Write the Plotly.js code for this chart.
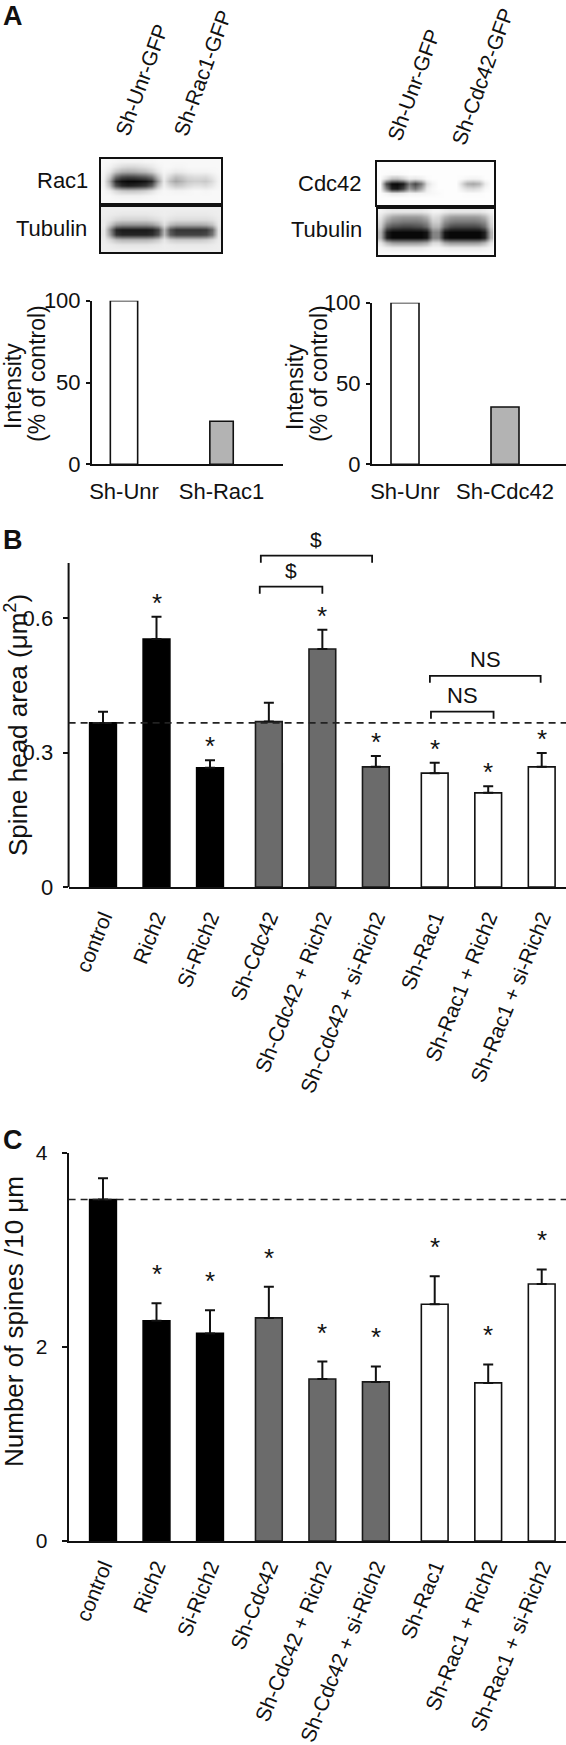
<!DOCTYPE html>
<html><head><meta charset="utf-8">
<script src="https://cdn.plot.ly/plotly-3.0.1.min.js"></script>
<style>html,body{margin:0;padding:0;background:#fff;}#chart{width:566px;height:1745px;}</style>
</head><body><div id="chart"></div>
<script>
// ---------------- DATA ----------------
const rac1Categories = ['Sh-Unr', 'Sh-Rac1'];
const rac1Intensity = [100, 26.3];
const cdc42Categories = ['Sh-Unr', 'Sh-Cdc42'];
const cdc42Intensity = [100, 35.5];

const rac1BlotLanes = ['Sh-Unr-GFP', 'Sh-Rac1-GFP'];
const cdc42BlotLanes = ['Sh-Unr-GFP', 'Sh-Cdc42-GFP'];

const conditions = ['control', 'Rich2', 'Si-Rich2', 'Sh-Cdc42', 'Sh-Cdc42 + Rich2',
  'Sh-Cdc42 + si-Rich2', 'Sh-Rac1', 'Sh-Rac1 + Rich2', 'Sh-Rac1 + si-Rich2'];
const conditionGroup = [0, 0, 0, 1, 1, 1, 2, 2, 2];

const spineHeadArea = [0.366, 0.553, 0.266, 0.369, 0.531, 0.268, 0.254, 0.210, 0.268];
const spineHeadAreaSEM = [0.025, 0.050, 0.017, 0.042, 0.043, 0.024, 0.023, 0.015, 0.031];
const spineHeadAreaSig = [false, true, true, false, true, true, true, true, true];
const spineHeadComparisons = [
  {a: 3, b: 5, label: '$'}, {a: 3, b: 4, label: '$'},
  {a: 6, b: 8, label: 'NS'}, {a: 6, b: 7, label: 'NS'}];

const spineDensity = [3.52, 2.27, 2.14, 2.30, 1.67, 1.64, 2.44, 1.63, 2.65];
const spineDensitySEM = [0.22, 0.18, 0.24, 0.32, 0.18, 0.16, 0.29, 0.19, 0.15];
const spineDensitySig = [false, true, true, true, true, true, true, true, true];

// western blot band densities (0 = blank film, 1 = saturated), rows top -> bottom
const blotRac1 = [
  [.03,.03,.04,.05,.05,.05,.05,.04,.04,.03,.03,.03,.03,.03,.03,.03,.03,.03,.03,.03],
  [.03,.05,.10,.14,.16,.16,.14,.12,.09,.05,.03,.03,.04,.04,.03,.03,.03,.03,.03,.03],
  [.04,.10,.24,.32,.34,.33,.30,.27,.20,.10,.04,.06,.09,.08,.06,.05,.05,.05,.04,.03],
  [.05,.22,.58,.72,.75,.74,.70,.66,.55,.26,.06,.16,.26,.22,.16,.14,.14,.15,.10,.04],
  [.06,.36,.86,.97,1.0,1.0,.98,.95,.85,.42,.08,.26,.36,.30,.22,.20,.20,.22,.15,.05],
  [.05,.26,.70,.86,.90,.88,.85,.80,.65,.26,.06,.15,.22,.20,.15,.12,.12,.14,.10,.04],
  [.03,.07,.16,.22,.24,.24,.22,.19,.13,.06,.03,.04,.05,.05,.04,.03,.03,.04,.03,.03],
  [.03,.03,.05,.06,.06,.06,.06,.05,.04,.03,.03,.03,.03,.03,.03,.03,.03,.03,.03,.03],
  [.03,.03,.03,.03,.03,.03,.03,.03,.03,.03,.03,.03,.03,.03,.03,.03,.03,.03,.03,.03]];
const blotTubulin1 = [
  [.07,.07,.07,.07,.07,.07,.07,.07,.07,.07,.07,.07,.07,.07,.07,.07,.07,.07,.07,.07],
  [.07,.08,.09,.10,.10,.10,.10,.10,.09,.08,.07,.08,.09,.09,.09,.09,.09,.09,.08,.07],
  [.08,.11,.16,.18,.18,.18,.18,.18,.16,.13,.09,.12,.14,.14,.14,.14,.14,.14,.12,.08],
  [.08,.22,.40,.44,.44,.44,.44,.44,.40,.30,.13,.28,.34,.34,.34,.34,.34,.32,.25,.09],
  [.10,.48,.88,.93,.93,.93,.93,.93,.90,.76,.30,.70,.82,.82,.82,.82,.82,.80,.62,.12],
  [.10,.42,.82,.88,.88,.88,.88,.88,.85,.70,.28,.65,.76,.76,.76,.76,.76,.73,.56,.11],
  [.08,.16,.26,.30,.30,.30,.30,.30,.27,.21,.10,.19,.22,.22,.22,.22,.22,.20,.15,.08],
  [.07,.08,.10,.11,.11,.11,.11,.11,.10,.09,.07,.08,.09,.09,.09,.09,.09,.09,.08,.07],
  [.07,.07,.07,.07,.07,.07,.07,.07,.07,.07,.07,.07,.07,.07,.07,.07,.07,.07,.07,.07]];
const blotCdc42 = [
  [.01,.01,.01,.01,.01,.01,.01,.01,.01,.01,.01,.01,.01,.01,.01,.01,.01,.01,.01,.01],
  [.01,.01,.01,.01,.01,.01,.01,.01,.01,.01,.01,.01,.01,.01,.01,.01,.01,.01,.01,.01],
  [.01,.02,.03,.03,.02,.01,.01,.01,.01,.01,.01,.01,.01,.01,.01,.01,.01,.01,.01,.01],
  [.01,.12,.25,.26,.18,.08,.10,.07,.02,.01,.01,.01,.01,.01,.02,.04,.05,.04,.01,.01],
  [.02,.72,.98,1.0,.92,.55,.75,.55,.15,.05,.01,.01,.01,.01,.15,.32,.36,.30,.08,.01],
  [.02,.50,.90,.93,.76,.40,.55,.35,.08,.03,.01,.01,.01,.01,.07,.13,.15,.11,.03,.01],
  [.01,.05,.10,.10,.08,.05,.06,.05,.04,.03,.02,.01,.01,.01,.01,.02,.02,.02,.01,.01],
  [.01,.01,.01,.01,.01,.01,.01,.01,.01,.01,.01,.01,.01,.01,.01,.01,.01,.01,.01,.01],
  [.01,.01,.01,.01,.01,.01,.01,.01,.01,.01,.01,.01,.01,.01,.01,.01,.01,.01,.01,.01]];
const blotTubulin2 = [
  [.05,.08,.10,.10,.10,.10,.10,.10,.08,.05,.05,.08,.10,.10,.10,.10,.10,.10,.08,.05],
  [.10,.25,.35,.38,.40,.40,.40,.38,.30,.12,.15,.30,.38,.40,.40,.40,.40,.38,.30,.12],
  [.15,.40,.50,.52,.55,.55,.55,.52,.45,.20,.20,.45,.52,.55,.55,.55,.55,.52,.45,.15],
  [.20,.60,.70,.72,.75,.75,.72,.70,.60,.30,.30,.60,.72,.75,.75,.75,.75,.72,.60,.20],
  [.30,.90,1.0,1.0,1.0,1.0,1.0,1.0,.95,.50,.50,.95,1.0,1.0,1.0,1.0,1.0,1.0,.90,.30],
  [.30,.90,1.0,1.0,1.0,1.0,1.0,1.0,.95,.50,.50,.95,1.0,1.0,1.0,1.0,1.0,1.0,.90,.30],
  [.10,.30,.40,.42,.42,.42,.42,.40,.35,.15,.15,.35,.42,.42,.42,.42,.42,.40,.30,.10],
  [.04,.06,.08,.08,.08,.08,.08,.08,.06,.04,.04,.06,.08,.08,.08,.08,.08,.08,.06,.04],
  [.03,.03,.03,.03,.03,.03,.03,.03,.03,.03,.03,.03,.03,.03,.03,.03,.03,.03,.03,.03]];

// ---------------- STYLE / LAYOUT ----------------
const W = 566, H = 1745;
const FONT = 'Arial, "Liberation Sans", sans-serif';
const INK = '#111111';
const px = v => v / W;
const py = v => 1 - v / H;
const groupFill = ['#000000', '#6b6b6b', '#ffffff'];
const groupLine = ['#000000', '#1a1a1a', '#111111'];
const xPos = conditions.map((c, i) => i + 0.1 * conditionGroup[i]);

const traces = [];
function knockBar(cats, vals, xa, ya, widths) {
  traces.push({type: 'bar', x: cats.map((c, i) => i), y: vals, xaxis: xa, yaxis: ya,
    width: widths, cliponaxis: false, hoverinfo: 'skip',
    marker: {color: ['#ffffff', '#b3b3b3'], line: {color: INK, width: 1.6}}});
}
knockBar(rac1Categories, rac1Intensity, 'x', 'y', [0.28, 0.24]);
knockBar(cdc42Categories, cdc42Intensity, 'x2', 'y2', [0.28, 0.28]);

const blotScale = [[0, '#ffffff'], [1, '#080808']];
[[blotRac1, 'x3', 'y3'], [blotTubulin1, 'x4', 'y4'], [blotCdc42, 'x5', 'y5'], [blotTubulin2, 'x6', 'y6']]
  .forEach(([z, xa, ya]) => traces.push({type: 'heatmap', z: z, xaxis: xa, yaxis: ya,
    colorscale: blotScale, zmin: 0, zmax: 1, zsmooth: 'best', showscale: false, hoverinfo: 'skip'}));

function groupedBars(vals, sem, xa, ya) {
  traces.push({type: 'bar', x: xPos, y: vals, xaxis: xa, yaxis: ya, width: 0.5,
    cliponaxis: false, hoverinfo: 'skip',
    marker: {color: conditionGroup.map(g => groupFill[g]),
      line: {color: conditionGroup.map(g => groupLine[g]), width: 1.6}},
    error_y: {type: 'data', symmetric: false, array: sem, arrayminus: sem.map(() => 0),
      color: INK, thickness: 2, width: 5}});
}
groupedBars(spineHeadArea, spineHeadAreaSEM, 'x7', 'y7');
groupedBars(spineDensity, spineDensitySEM, 'x8', 'y8');

const baseAx = {showgrid: false, zeroline: false, fixedrange: true, color: INK,
  linecolor: INK, tickcolor: INK, tickfont: {family: FONT, size: 22, color: INK}};
function blotAxes(x0, x1, y0, y1, anchorX, anchorY) {
  const common = Object.assign({}, baseAx, {showline: true, mirror: true, linewidth: 2,
    ticks: '', showticklabels: false});
  return [Object.assign({}, common, {domain: [px(x0), px(x1)], range: [-0.5, 19.5], anchor: anchorY}),
          Object.assign({}, common, {domain: [py(y1), py(y0)], range: [8.5, -0.5], anchor: anchorX})];
}
const [x3, y3] = blotAxes(100.5, 221, 159, 203, 'x3', 'y3');
const [x4, y4] = blotAxes(101, 221, 207, 252, 'x4', 'y4');
const [x5, y5] = blotAxes(377, 493.5, 162, 205, 'x5', 'y5');
const [x6, y6] = blotAxes(377.5, 493.5, 209, 255, 'x6', 'y6');

const B_TOP = 0.80, B_AXIS_END = 0.723, B_PXPER = 448.3;

const layout = {
  width: W, height: H, margin: {l: 0, r: 0, t: 0, b: 0},
  paper_bgcolor: '#ffffff', plot_bgcolor: 'rgba(0,0,0,0)', showlegend: false,
  font: {family: FONT, color: INK},
  xaxis: Object.assign({}, baseAx, {domain: [px(92), px(283)], range: [-0.328, 1.63], anchor: 'y',
    showline: true, linewidth: 2, ticks: '', tickvals: [0, 1], ticktext: rac1Categories, ticklabelstandoff: 6}),
  yaxis: Object.assign({}, baseAx, {domain: [py(464.3), py(300.7)], range: [0, 100], anchor: 'x',
    showline: true, linewidth: 2, ticks: 'outside', ticklen: 4, tickwidth: 2, tickvals: [0, 50, 100], ticklabelstandoff: 1}),
  xaxis2: Object.assign({}, baseAx, {domain: [px(372), 1], range: [-0.33, 1.61], anchor: 'y2',
    showline: true, linewidth: 2, ticks: '', tickvals: [0, 1], ticktext: cdc42Categories, ticklabelstandoff: 6}),
  yaxis2: Object.assign({}, baseAx, {domain: [py(464.3), py(302.7)], range: [0, 100], anchor: 'x2',
    showline: true, linewidth: 2, ticks: 'outside', ticklen: 4, tickwidth: 2, tickvals: [0, 50, 100], ticklabelstandoff: 1}),
  xaxis3: x3, yaxis3: y3, xaxis4: x4, yaxis4: y4, xaxis5: x5, yaxis5: y5, xaxis6: x6, yaxis6: y6,
  xaxis7: Object.assign({}, baseAx, {domain: [px(68.6), 1], range: [-0.643, 8.654], anchor: 'y7',
    showline: true, linewidth: 2, ticks: '', tickvals: xPos, ticktext: conditions, tickangle: -68,
    tickfont: {family: FONT, size: 21, color: INK}, ticklabelstandoff: 8}),
  yaxis7: Object.assign({}, baseAx, {domain: [py(887), py(887 - B_TOP * B_PXPER)], range: [0, B_TOP], anchor: 'x7',
    showline: false, ticks: 'outside', ticklen: 5, tickwidth: 2, tickvals: [0, 0.3, 0.6], ticktext: ['0', '0.3', '0.6'],
    ticklabelstandoff: 5}),
  xaxis8: Object.assign({}, baseAx, {domain: [px(68.6), 1], range: [-0.643, 8.654], anchor: 'y8',
    showline: true, linewidth: 2, ticks: '', tickvals: xPos, ticktext: conditions, tickangle: -68,
    tickfont: {family: FONT, size: 21, color: INK}, ticklabelstandoff: 3}),
  yaxis8: Object.assign({}, baseAx, {domain: [py(1541), py(1153)], range: [0, 4], anchor: 'x8',
    showline: true, linewidth: 2, ticks: 'outside', ticklen: 5, tickwidth: 2, tickvals: [0, 2, 4],
    tickfont: {family: FONT, size: 21, color: INK}, ticklabelstandoff: 10}),
  shapes: [], annotations: []
};

// B y-axis line (ends just above the 0.6 tick region, as in the figure)
layout.shapes.push({type: 'line', xref: 'x7 domain', yref: 'y7', x0: 0, x1: 0, y0: 0, y1: B_AXIS_END,
  line: {color: INK, width: 2}});
// control-level reference lines
layout.shapes.push({type: 'line', xref: 'x7 domain', yref: 'y7', x0: 0, x1: 1, y0: spineHeadArea[0], y1: spineHeadArea[0],
  line: {color: '#222', width: 1.6, dash: '7px,5px'}});
layout.shapes.push({type: 'line', xref: 'x8 domain', yref: 'y8', x0: 0, x1: 1, y0: spineDensity[0], y1: spineDensity[0],
  line: {color: '#222', width: 1.6, dash: '7px,5px'}});

// comparison brackets (panel B)
const bracketLevel = [0.739, 0.670, 0.471, 0.391];
const bracketStart = [-0.15, -0.17, -0.09, -0.07];
const bracketEnd = [-0.07, 0.0, -0.02, 0.1];
const drop = 7 / B_PXPER;
spineHeadComparisons.forEach((c, k) => {
  const x0 = xPos[c.a] + bracketStart[k], x1 = xPos[c.b] + bracketEnd[k], yl = bracketLevel[k];
  layout.shapes.push({type: 'path', xref: 'x7', yref: 'y7',
    path: `M ${x0},${yl - drop} L ${x0},${yl} L ${x1},${yl} L ${x1},${yl - drop}`,
    line: {color: INK, width: 1.8}});
  layout.annotations.push({xref: 'x7', yref: 'y7', x: (x0 + x1) / 2, y: yl, yshift: 16,
    text: c.label, showarrow: false, xanchor: 'center', yanchor: 'middle',
    font: {family: FONT, size: c.label === '$' ? 21 : 22, color: INK}});
});

// significance stars
function stars(vals, sem, sig, xa, ya, shift) {
  vals.forEach((v, i) => {
    if (!sig[i]) return;
    layout.annotations.push({xref: xa, yref: ya, x: xPos[i], y: v + sem[i], yshift: shift,
      text: '*', showarrow: false, xanchor: 'center', yanchor: 'middle',
      font: {family: FONT, size: 26, color: INK}});
  });
}
stars(spineHeadArea, spineHeadAreaSEM, spineHeadAreaSig, 'x7', 'y7', 14);
stars(spineDensity, spineDensitySEM, spineDensitySig, 'x8', 'y8', 29);

// free text
function txt(text, x, y, size, opts) {
  layout.annotations.push(Object.assign({xref: 'paper', yref: 'paper', x: px(x), y: py(y), text: text,
    showarrow: false, xanchor: 'center', yanchor: 'middle',
    font: {family: FONT, size: size, color: INK}}, opts || {}));
}
txt('<b>A</b>', 1, 16, 27, {xanchor: 'left'});
txt('<b>B</b>', 1, 540, 27, {xanchor: 'left'});
txt('<b>C</b>', 1, 1140, 27, {xanchor: 'left'});
txt(rac1BlotLanes[0], 141, 80, 21, {textangle: -70});
txt(rac1BlotLanes[1], 203, 73, 21, {textangle: -70});
txt(cdc42BlotLanes[0], 413, 85, 21, {textangle: -70});
txt(cdc42BlotLanes[1], 482, 76, 21, {textangle: -70});
txt('Rac1', 90, 180, 22, {xanchor: 'right'});
txt('Tubulin', 88.5, 228, 22, {xanchor: 'right'});
txt('Cdc42', 364, 183, 22, {xanchor: 'right'});
txt('Tubulin', 364, 230, 22, {xanchor: 'right'});
txt('Intensity', 13, 386, 23, {textangle: -90});
txt('(% of control)', 37, 374, 23, {textangle: -90});
txt('Intensity', 295, 387, 23, {textangle: -90});
txt('(% of control)', 319, 374, 23, {textangle: -90});
txt('Spine head area (μm<sup>2</sup>)', 16, 725, 26, {textangle: -90});
txt('Number of spines /10 μm', 14, 1322, 26, {textangle: -90});

Plotly.newPlot('chart', traces, layout, {staticPlot: true, displayModeBar: false});
</script></body></html>
